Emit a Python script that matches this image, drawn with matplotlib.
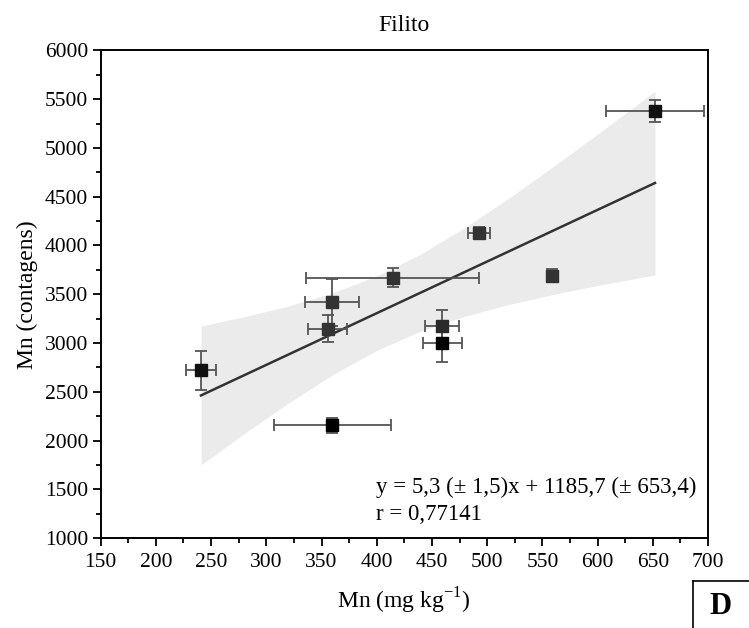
import matplotlib
matplotlib.use("Agg")
import matplotlib.pyplot as plt
from matplotlib.ticker import MultipleLocator
import numpy as np

plt.rcParams['font.family'] = ['Liberation Serif', 'DejaVu Serif']
plt.rcParams['mathtext.fontset'] = 'custom'
plt.rcParams['mathtext.rm'] = 'Liberation Serif'

# Data
mn_mg = [240.8, 359.8, 493.0, 414.5, 359.2, 355.6, 458.9, 459.4, 558.5, 652.0]
mn_counts = [2720, 2157, 4130, 3669, 3416, 3147, 3177, 3000, 3692, 5382]
x_err = [13.6, 53.0, 10.0, 78.5, 24.6, 17.4, 15.5, 17.5, 3.0, 44.0]
y_err = [200, 78, 60, 97, 245, 140, 157, 195, 63, 112]
point_colors = ['#111111', '#000000', '#333333', '#333333', '#333333',
                '#333333', '#2a2a2a', '#000000', '#333333', '#111111']

slope = 5.3
intercept = 1185.7

band_x = [241, 280, 320, 360, 400, 440, 480, 520, 560, 600, 652]
band_lo = [1751, 2071, 2385, 2674, 2924, 3123, 3275, 3396, 3498, 3590, 3699]
band_hi = [3175, 3269, 3379, 3514, 3688, 3913, 4185, 4488, 4810, 5142, 5583]

eq_text = "y = 5,3 (\u00b1 1,5)x + 1185,7 (\u00b1 653,4)"
r_text = "r = 0,77141"

fig = plt.figure(figsize=(7.49, 6.28), dpi=100)
ax = fig.add_axes([0.1344, 0.1433, 0.8109, 0.7763])

ax.fill_between(band_x, band_lo, band_hi, color='#ebebeb', lw=0, zorder=1)

fit_x = np.array([min(mn_mg), max(mn_mg)])
ax.plot(fit_x, slope * fit_x + intercept, color='#333333', lw=1.8, zorder=2)

for x, y, xe, ye, c in zip(mn_mg, mn_counts, x_err, y_err, point_colors):
    ax.errorbar(x, y, xerr=xe, yerr=ye, fmt='s', color=c, ms=8.5,
                ecolor='#555555', elinewidth=1.3, capsize=4, capthick=1.3,
                zorder=3)

ax.set_xlim(150, 700)
ax.set_ylim(1000, 6000)
ax.xaxis.set_major_locator(MultipleLocator(50))
ax.xaxis.set_minor_locator(MultipleLocator(25))
ax.yaxis.set_major_locator(MultipleLocator(500))
ax.yaxis.set_minor_locator(MultipleLocator(250))
ax.tick_params(which='both', direction='out', top=False, right=False,
               labelsize=15.5, width=1.3)
ax.tick_params(which='major', length=6)
ax.tick_params(axis='x', which='major', pad=5)
ax.tick_params(axis='y', which='major', pad=3)
ax.tick_params(which='minor', length=3.5)
for s in ax.spines.values():
    s.set_linewidth(1.4)

ax.set_title("Filito", fontsize=17, pad=14)
ax.set_xlabel("Mn (mg kg$^{\\mathregular{-1}}$)", fontsize=17, labelpad=10)
ax.set_ylabel("Mn (contagens)", fontsize=17, labelpad=5)

ax.text(0.453, 0.103, eq_text, transform=ax.transAxes, fontsize=16.5,
        ha='left', va='center')
ax.text(0.453, 0.048, r_text, transform=ax.transAxes, fontsize=16.5,
        ha='left', va='center')

fig.text(0.962, 0.034, "D", fontsize=22, fontweight='bold', ha='center',
         va='center', transform=fig.transFigure)
fig.add_artist(plt.Line2D([693/749, 693/749], [0, 1 - 581/628],
                          transform=fig.transFigure, color='black', lw=1.2))
fig.add_artist(plt.Line2D([693/749, 1], [1 - 581/628, 1 - 581/628],
                          transform=fig.transFigure, color='black', lw=1.2))

fig.savefig("out.png", dpi=100)
